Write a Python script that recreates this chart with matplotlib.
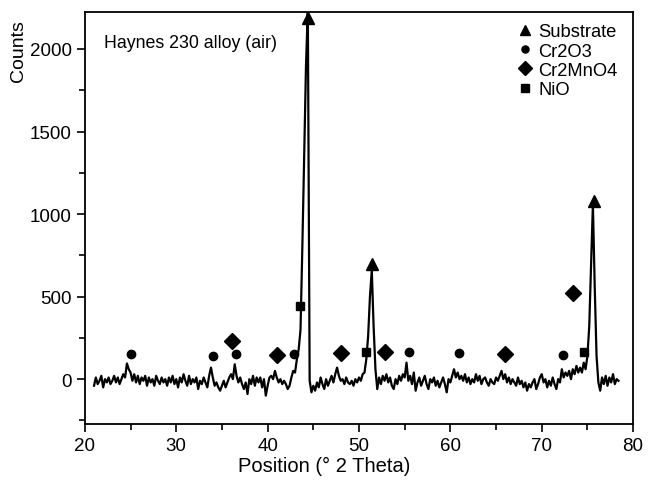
import numpy as np
import matplotlib
matplotlib.use("Agg")
import matplotlib.pyplot as plt

plt.rcParams['font.family'] = ['Liberation Sans', 'DejaVu Sans']

# 2-theta grid of the scan (step 0.2 deg)
theta = np.round(np.arange(21.0, 78.41, 0.2), 1)

# counts, one row per 2 degrees
counts = [
    -40, 10, -30, -10, 20, -50, 0, -20, 10, -30,        # 21.0 - 22.8
    -10, 20, -20, 10, -30, 0, 30, 10, 95, 60,           # 23.0 - 24.8
    40, -10, 30, -20, 20, -30, 10, -10, 20, -40,        # 25.0 - 26.8
    10, -20, 0, -40, 20, -10, -30, 10, -20, 0,          # 27.0 - 28.8
    -40, 10, -20, 20, -30, 0, -50, 10, -20, 30,         # 29.0 - 30.8
    -10, -40, 20, -30, 0, -20, 10, -60, -10, -30,       # 31.0 - 32.8
    10, -20, -50, 20, 70, 10, -40, -20, -50, -70,       # 33.0 - 34.8
    -40, -10, -50, -20, 10, 30, 0, 90, 20, -20,         # 35.0 - 36.8
    10, -30, -60, -20, -90, 0, -30, 20, -40, 10,        # 37.0 - 38.8
    -20, 10, -50, 0, -100, -40, 10, 20, 0, 50,          # 39.0 - 40.8
    10, -20, 0, -30, -10, -30, -60, -40, 10, 50,        # 41.0 - 42.8
    40, 120, 180, 300, 800, 1350, 1900, 2240, -10, -80,  # 43.0 - 44.8
    -40, -70, -20, -50, 10, -30, -60, 0, -40, -10,      # 45.0 - 46.8
    20, -20, 30, 70, 20, -10, 0, -30, 10, -20,          # 47.0 - 48.8
    -30, -10, -40, 0, -20, 10, -10, 30, 40, 120,        # 49.0 - 50.8
    260, 500, 660, 320, 60, -60, 10, -30, 20, -10,      # 51.0 - 52.8
    30, -20, 10, -40, -60, 0, -30, 20, -10, 30,         # 53.0 - 54.8
    10, 100, -10, 20, -30, 40, -70, -20, 10, -40,       # 55.0 - 56.8
    -10, 20, -30, -60, 0, -20, 10, -40, -10, -50,       # 57.0 - 58.8
    -20, 10, -30, -80, 0, -20, 20, 60, 10, 40,          # 59.0 - 60.8
    0, 20, -10, 30, -20, 10, -30, 0, -20, 30,           # 61.0 - 62.8
    -10, 20, -30, 0, 10, -20, -40, 0, -20, -30,         # 63.0 - 64.8
    10, -10, 20, 50, 0, 30, -20, 10, -30, 0,            # 65.0 - 66.8
    -20, -40, 10, -30, -10, -50, -20, -70, -30, -50,    # 67.0 - 68.8
    -20, 0, -60, -30, 10, 30, -20, 0, -50, -10,         # 69.0 - 70.8
    -40, 10, -30, -60, 0, -20, 60, 10, 40, 20,          # 71.0 - 72.8
    50, 0, 60, 30, 80, 40, 70, 40, 100, 60,             # 73.0 - 74.8
    140, 320, 680, 1060, 560, 140, -20, -70, 10, -30,   # 75.0 - 76.8
    20, -40, 10, -20, 30, -30, 0, -10,                  # 77.0 - 78.4
]

# phase markers
substrate_x = [44.4, 51.4, 75.7]
substrate_y = [2185, 700, 1080]
cr2o3_x = [25.0, 34.0, 36.5, 42.9, 55.5, 61.0, 72.3]
cr2o3_y = [155, 141, 151, 155, 165, 158, 147]
cr2mno4_x = [36.1, 41.0, 48.0, 52.8, 66.0, 73.4]
cr2mno4_y = [232, 147, 158, 162, 152, 520]
nio_x = [43.5, 50.8, 74.6]
nio_y = [444, 165, 165]

fig = plt.figure(figsize=(6.48, 4.81), dpi=100)
ax = fig.add_axes([0.131, 0.116, 0.846, 0.857])

ax.plot(theta, counts, color='black', linewidth=1.6)

ax.plot(substrate_x, substrate_y, '^', color='black', markersize=9, label='Substrate')
ax.plot(cr2o3_x, cr2o3_y, 'o', color='black', markersize=6, label='Cr2O3')
ax.plot(cr2mno4_x, cr2mno4_y, 'D', color='black', markersize=8, label='Cr2MnO4')
ax.plot(nio_x, nio_y, 's', color='black', markersize=6, label='NiO')

ax.set_xlim(20, 80)
ax.set_ylim(-273, 2224)
ax.set_xticks([20, 30, 40, 50, 60, 70, 80])
ax.set_xticks(np.arange(25, 80, 10), minor=True)
ax.set_yticks([0, 500, 1000, 1500, 2000])
ax.set_yticks([-250, 250, 750, 1250, 1750], minor=True)
ax.tick_params(which='major', direction='out', length=6, width=1.2, labelsize=13.5)
ax.tick_params(which='minor', direction='out', length=4, width=1.2)
for s in ax.spines.values():
    s.set_linewidth(1.3)

ax.set_xlabel('Position (° 2 Theta)', fontsize=14.5)
ax.xaxis.set_label_coords(0.436, -0.078)
ax.set_ylabel('Counts', fontsize=14)
ax.yaxis.set_label_coords(-0.106, 0.908)

ax.text(0.035, 0.927, 'Haynes 230 alloy (air)', transform=ax.transAxes,
        fontsize=12.8, va='center', ha='left')

ax.legend(loc='upper left', bbox_to_anchor=(0.77, 0.99), frameon=False,
          fontsize=13.2, handletextpad=0.1, labelspacing=0.12, handlelength=1.2,
          borderaxespad=0, markerscale=0.85)

fig.savefig('out.png', dpi=100)
